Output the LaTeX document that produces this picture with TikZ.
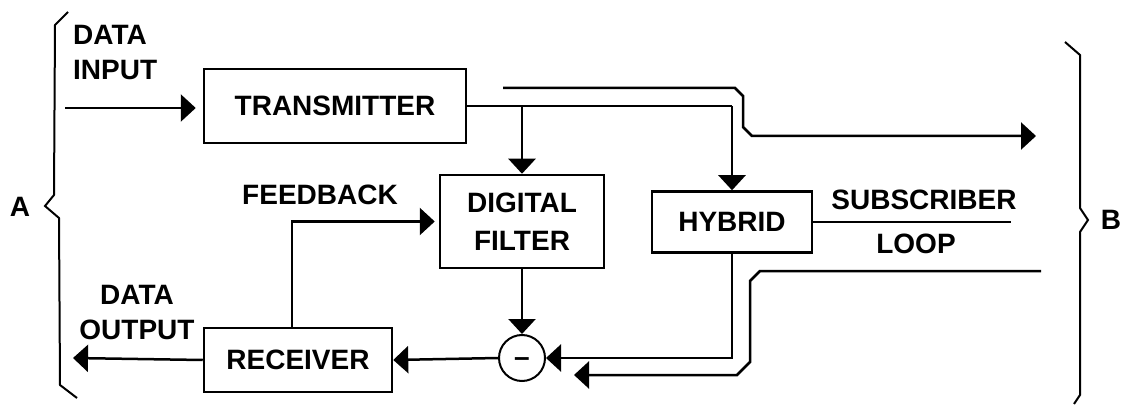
\documentclass[tikz,border=0pt]{standalone}
\usepackage{fontspec}
\setmainfont{Liberation Sans}
\usetikzlibrary{arrows.meta}

\begin{document}
\begin{tikzpicture}[x=1pt,y=-1pt,
  lbl/.style={font=\fontsize{28}{35}\selectfont\bfseries, inner sep=0pt},
  blockbox/.style={draw, line width=2.5pt, inner sep=0pt,
    font=\fontsize{28}{38}\selectfont\bfseries, align=center},
  wire/.style={line width=2.5pt},
  arr/.style={wire, -{Triangle[length=15pt,width=27pt]}},
  brace/.style={line width=2pt, line join=miter}
]
\useasboundingbox (0,0) rectangle (1121,406);

% functional blocks
\node[blockbox, minimum width=262pt, minimum height=74pt] (tx) at (335,106) {TRANSMITTER};
\node[blockbox, minimum width=164pt, minimum height=93pt] (df) at (522,221.5) {DIGITAL\\FILTER};
\node[blockbox, minimum width=160pt, minimum height=61pt] (hy) at (732,222) {HYBRID};
\node[blockbox, minimum width=188pt, minimum height=64pt] (rx) at (298,360) {RECEIVER};
% subtractor: the dash is lowered onto the circle's centre line
\node[draw, circle, line width=2pt, minimum size=46pt, inner sep=0pt,
      font=\fontsize{28}{30}\selectfont\bfseries] (sum) at (522,358)
      {\raisebox{-8pt}[0pt][0pt]{–}};

% labels
\node[lbl, anchor=north west, align=left] (din) at (73,25) {DATA\\INPUT};
\node[lbl, anchor=north, align=center] (dout) at (137,285) {DATA\\OUTPUT};
\node[lbl, anchor=north] (fb) at (320,185) {FEEDBACK};
\node[lbl, anchor=base] (sub) at (924,210) {SUBSCRIBER};
\node[lbl, anchor=base] (loop) at (916,253) {LOOP};
\node[lbl] (sideA) at (20,207) {A};
\node[lbl] (sideB) at (1111,220) {B};

% free ends of the signal paths
\coordinate (inStart) at (65,108);
\coordinate (outEnd) at (73,358);
\coordinate (subEnd) at (1011,222);

% data input and transmit path
\draw[arr, shorten >=7pt] (inStart) -- (inStart -| tx.west);
\draw[wire] (tx.east) -- (tx.east -| hy.north);
\draw[arr] (tx.east -| df.north) -- (df.north);
\draw[arr] (tx.east -| hy.north) -- (hy.north);

% receive path and echo cancellation
\draw[arr] (df.south) -- (sum.north);
\draw[arr] (hy.south) |- (sum.east);
\draw[arr] (sum.west) -- (rx.east);
\draw[arr] (rx.west) -- (outEnd);
\draw[arr, shorten >=4pt] ([xshift=-6pt]rx.north) |- (df.west);

% subscriber loop
\draw[wire] (hy.east) -- (hy.east -| subEnd);

% outgoing line towards B
\coordinate (u0) at (503,88);
\coordinate (u1) at (735,88);
\coordinate (u2) at (743,96);
\coordinate (u3) at (743,127);
\coordinate (u4) at (752,136);
\coordinate (u5) at (1036,136);
\draw[arr, line join=miter] (u0) -- (u1) -- (u2) -- (u3) -- (u4) -- (u5);

% incoming line from B
\coordinate (l0) at (1041,271);
\coordinate (l1) at (760,271);
\coordinate (l2) at (750,281);
\coordinate (l3) at (750,362);
\coordinate (l4) at (737,375);
\coordinate (l5) at (574,375);
\draw[arr, line join=miter] (l0) -- (l1) -- (l2) -- (l3) -- (l4) -- (l5);

% side braces
\draw[brace] (68,12) -- (55,25) -- (54,195) -- (45,206) -- (59,218) -- (60,385) -- (77,398);
\draw[brace] (1065,42) -- (1080,55) -- (1080,208) -- (1088,220) -- (1080,232) -- (1080,395) -- (1074,404);
\end{tikzpicture}
\end{document}
